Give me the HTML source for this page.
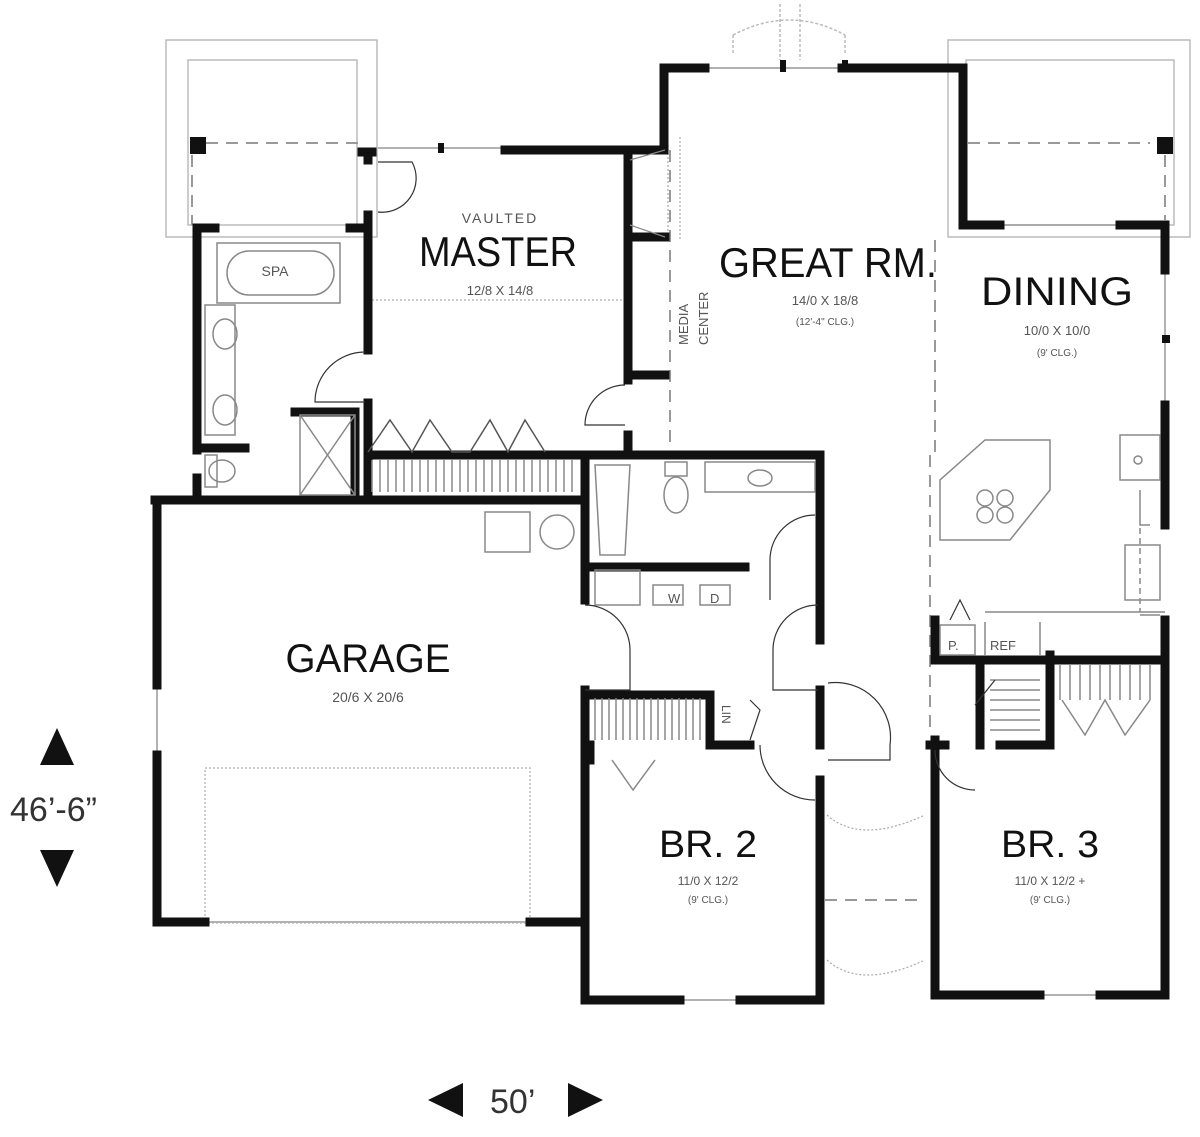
<!DOCTYPE html>
<html><head><meta charset="utf-8"><style>
html,body{margin:0;padding:0;background:#fff;}
svg{display:block}
text{font-family:"Liberation Sans",sans-serif;}
</style></head><body>
<svg width="1200" height="1137" viewBox="0 0 1200 1137" xmlns="http://www.w3.org/2000/svg">
<g fill="none" stroke="#bbb" stroke-width="1.5">
 <rect x="166" y="40" width="211" height="197"/>
 <rect x="188" y="60" width="169" height="165"/>
 <rect x="948" y="40" width="242" height="197"/>
 <rect x="966" y="60" width="208" height="165"/>
 <path d="M733 35 Q790 5 845 35 M733 35 V55 M845 35 V55 M780 4 V60 M800 4 V60" stroke-dasharray="3 2"/>
 <path d="M378 148 H505 M705 68 H842 M1000 225 H1120 M1165 270 V405 M157 685 V755 M680 1000 H740 M1040 995 H1100 M205 922 H530" stroke="#999"/>
</g>
<g fill="none" stroke="#999" stroke-width="2" stroke-dasharray="12 8">
 <path d="M206 143 H358 M192 155 V225 M968 143 H1150 M1165 155 V220"/>
 <path d="M670 150 V450 M935 240 V455 M930 455 V735"/>
 <path d="M825 900 H925"/>
</g>
<g fill="none" stroke="#bbb" stroke-width="1.5" stroke-dasharray="2 2">
 <path d="M368 300 H625 M668 145 V240 M680 137 V240 M590 455 H820"/>
 <rect x="205" y="768" width="325" height="155"/>
</g>
<g fill="#111">
 <rect x="190" y="137" width="16" height="17"/>
 <rect x="1157" y="137" width="16" height="17"/>
 <rect x="438" y="143" width="6" height="10"/>
 <rect x="780" y="60" width="6" height="12"/>
 <rect x="842" y="60" width="6" height="12"/>
 <rect x="1162" y="335" width="8" height="8"/>
</g>
<g fill="none" stroke="#111" stroke-width="9" stroke-linecap="square">
 <path d="M362 152 H372 M368 152 V160"/>
 <path d="M505 150 H664 V68 H705 M842 68 H963 V225 H1000 M1120 225 H1165 V270"/>
 <path d="M368 215 V350 M368 403 V495"/>
 <path d="M197 228 H215 M197 228 V450 M197 448 H245 M197 495 V478"/>
 <path d="M295 412 H355 M355 412 V495"/>
 <path d="M350 228 H366"/>
 <path d="M155 500 H585 M157 500 V685 M157 755 V922 H205 M530 922 H585"/>
 <path d="M368 455 H580 M585 455 H820 M585 455 V600 M585 690 V1000 H680 M740 1000 H820 V780"/>
 <path d="M628 150 V380 M628 237 H665 M628 375 H665 M628 435 V455 M820 455 V640 M820 690 V745"/>
 <path d="M590 567 H745 M590 695 H710 M710 695 V745 H750 M590 760 V745"/>
 <path d="M935 740 V995 H1040 M1100 995 H1165 V655 M930 745 H945"/>
 <path d="M1165 405 V525 M1165 620 V660 M935 660 H1165 M935 620 V660 M980 660 V745 M1050 655 V745 H1000"/>
</g>
<g fill="none" stroke="#888" stroke-width="1.5">
 <rect x="217" y="243" width="123" height="60"/>
 <rect x="227" y="251" width="107" height="44" rx="22"/>
 <rect x="205" y="305" width="30" height="130"/>
 <ellipse cx="225" cy="334" rx="12" ry="15"/><ellipse cx="225" cy="410" rx="12" ry="15"/>
 <rect x="205" y="455" width="12" height="32"/><ellipse cx="222" cy="471" rx="13" ry="11"/>
 <rect x="300" y="415" width="55" height="80"/><path d="M300 415 L355 495 M355 415 L300 495"/>
 <path d="M368 452 L390 420 L412 452 L430 420 L452 452 L470 452 L490 420 L508 452 L525 420 L545 452" stroke="#555"/>
 <path d="M372 460 V492 M380 460 V492 M388 460 V492 M396 460 V492 M404 460 V492 M412 460 V492 M420 460 V492 M428 460 V492 M436 460 V492 M444 460 V492 M452 460 V492 M460 460 V492 M468 460 V492 M476 460 V492 M484 460 V492 M492 460 V492 M500 460 V492 M508 460 V492 M516 460 V492 M524 460 V492 M532 460 V492 M540 460 V492 M548 460 V492 M556 460 V492 M564 460 V492 M572 460 V492"/>
 <path d="M595 698 V740 M602 698 V740 M609 698 V740 M616 698 V740 M623 698 V740 M630 698 V740 M637 698 V740 M644 698 V740 M651 698 V740 M658 698 V740 M665 698 V740 M672 698 V740 M679 698 V740 M686 698 V740 M693 698 V740 M700 698 V740"/>
 <path d="M990 680 H1040 M990 690 H1040 M990 700 H1040 M990 710 H1040 M990 720 H1040 M990 730 H1040 M1060 665 V700 M1070 665 V700 M1080 665 V700 M1090 665 V700 M1100 665 V700 M1110 665 V700 M1120 665 V700 M1130 665 V700 M1140 665 V700 M1150 665 V700"/>
 <path d="M612 760 L633 790 L655 760 M1062 700 L1085 735 L1105 700 L1125 735 L1150 700"/>
 <path d="M595 465 H630 L625 555 H600 Z"/><ellipse cx="676" cy="495" rx="12" ry="18"/><rect x="665" y="462" width="22" height="14"/>
 <rect x="705" y="462" width="110" height="30"/><ellipse cx="760" cy="478" rx="12" ry="8"/>
 <rect x="595" y="570" width="45" height="35"/><rect x="653" y="585" width="30" height="20"/><rect x="700" y="585" width="30" height="20"/>
 <rect x="485" y="512" width="45" height="40"/><circle cx="557" cy="532" r="17"/>
 <path d="M940 540 V480 L985 440 H1050 V490 L1010 540 Z"/><circle cx="985" cy="498" r="8"/><circle cx="1005" cy="498" r="8"/><circle cx="985" cy="515" r="8"/><circle cx="1005" cy="515" r="8"/>
 <rect x="1120" y="435" width="40" height="45"/><circle cx="1138" cy="460" r="4"/>
 <rect x="1125" y="545" width="35" height="55"/>
 <path d="M985 612 H1165 M985 622 V655 M1040 622 V655"/>
 <rect x="940" y="625" width="35" height="30"/>
 <path d="M1140 615 H1160 M1140 490 V525 H1150"/>
 <path d="M1140 528 V612" stroke-dasharray="6 4"/>
</g>
<g fill="none" stroke="#333" stroke-width="1.2">
 <path d="M378 162 H412 A34 34 0 0 1 378 212"/>
 <path d="M365 352 A50 50 0 0 0 315 402 H365"/>
 <path d="M625 385 A40 40 0 0 0 585 425 H625"/>
 <path d="M815 515 A45 45 0 0 0 770 560 V600"/>
 <path d="M585 605 A45 45 0 0 1 630 650 V690 H585 M818 605 A45 45 0 0 0 773 650 V690 H818"/>
 <path d="M760 745 A55 55 0 0 0 815 800 M828 683 A55 55 0 0 1 890 745 V760 H828"/>
 <path d="M935 750 A40 40 0 0 0 975 790 M950 620 L960 600 L970 620 M975 705 L995 680"/>
 <path d="M750 700 L760 710 L750 740"/>
 <path d="M630 160 L665 150 M630 225 L665 237" stroke="#888"/>
 <path d="M827 815 Q860 845 925 815 M827 960 Q860 990 925 960" stroke="#aaa" stroke-dasharray="2 2"/>
</g>
<g fill="#111">
 <text x="500" y="223" font-size="14" fill="#555" text-anchor="middle" letter-spacing="2">VAULTED</text>
 <text x="498" y="266" font-size="42" text-anchor="middle" textLength="158" lengthAdjust="spacingAndGlyphs">MASTER</text>
 <text x="500" y="295" font-size="13" fill="#555" text-anchor="middle">12/8 X 14/8</text>
 <text x="275" y="276" font-size="14" fill="#555" text-anchor="middle">SPA</text>
 <text x="828" y="277" font-size="42" text-anchor="middle" textLength="218" lengthAdjust="spacingAndGlyphs">GREAT RM.</text>
 <text x="825" y="305" font-size="13" fill="#555" text-anchor="middle">14/0 X 18/8</text>
 <text x="825" y="325" font-size="10" fill="#555" text-anchor="middle">(12'-4" CLG.)</text>
 <text transform="translate(688,345) rotate(-90)" font-size="13" fill="#555">MEDIA</text>
 <text transform="translate(708,345) rotate(-90)" font-size="13" fill="#555">CENTER</text>
 <text x="1057" y="305" font-size="40" text-anchor="middle" textLength="152" lengthAdjust="spacingAndGlyphs">DINING</text>
 <text x="1057" y="335" font-size="13" fill="#555" text-anchor="middle">10/0 X 10/0</text>
 <text x="1057" y="356" font-size="10" fill="#555" text-anchor="middle">(9' CLG.)</text>
 <text x="368" y="672" font-size="40" text-anchor="middle" textLength="165" lengthAdjust="spacingAndGlyphs">GARAGE</text>
 <text x="368" y="702" font-size="14" fill="#555" text-anchor="middle">20/6 X 20/6</text>
 <text x="708" y="857" font-size="38" text-anchor="middle" textLength="98" lengthAdjust="spacingAndGlyphs">BR. 2</text>
 <text x="708" y="885" font-size="12" fill="#555" text-anchor="middle">11/0 X 12/2</text>
 <text x="708" y="903" font-size="10" fill="#555" text-anchor="middle">(9' CLG.)</text>
 <text x="1050" y="857" font-size="38" text-anchor="middle" textLength="98" lengthAdjust="spacingAndGlyphs">BR. 3</text>
 <text x="1050" y="885" font-size="12" fill="#555" text-anchor="middle">11/0 X 12/2 +</text>
 <text x="1050" y="903" font-size="10" fill="#555" text-anchor="middle">(9' CLG.)</text>
 <text x="668" y="603" font-size="13" fill="#555">W</text><text x="710" y="603" font-size="13" fill="#555">D</text>
 <text x="948" y="650" font-size="13" fill="#555">P.</text><text x="990" y="650" font-size="13" fill="#555">REF</text>
 <text transform="translate(722,705) rotate(90)" font-size="12" fill="#555">LIN</text>
 <text x="10" y="821" font-size="34" font-family="Liberation Serif" fill="#333">46’-6”</text>
 <text x="490" y="1113" font-size="34" font-family="Liberation Serif" fill="#333">50’</text>
 <path d="M57 728 L40 765 H74 Z M40 850 H74 L57 887 Z M428 1100 L463 1083 V1117 Z M568 1083 L603 1100 L568 1117 Z" fill="#111"/>
</g>
</svg>
</body></html>
